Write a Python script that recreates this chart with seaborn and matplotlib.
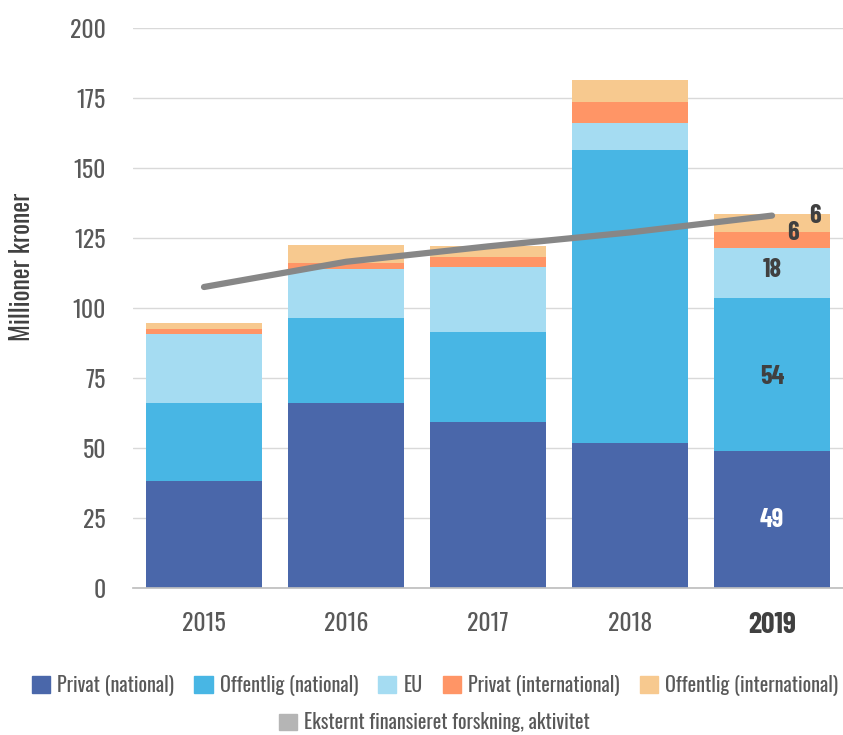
import matplotlib
matplotlib.use("Agg")
import matplotlib.pyplot as plt
import matplotlib.patches as mpatches
from matplotlib import font_manager
import numpy as np
import pandas as pd
import seaborn as sns

years = ["2015", "2016", "2017", "2018", "2019"]
privat_national = [38.2, 66.1, 59.4, 51.9, 49.0]
offentlig_national = [27.9, 30.3, 32.0, 104.5, 54.4]
eu = [24.6, 17.5, 23.2, 9.7, 18.0]
privat_international = [1.8, 2.2, 3.6, 7.6, 5.9]
offentlig_international = [2.1, 6.4, 3.9, 7.7, 6.1]
aktivitet = [107.5, 116.5, 122.0, 127.0, 133.0]

series_names = ["Privat (national)", "Offentlig (national)", "EU",
                "Privat (international)", "Offentlig (international)"]
line_name = "Eksternt finansieret forskning, aktivitet"
labels_2019 = ["49", "54", "18", "6", "6"]
colors = ["#4A67AA", "#48B6E4", "#A5DCF2", "#FF9566", "#F7C98F"]

sns.set_theme(style="white")
fl = font_manager.fontManager.ttflist
names = {f.name for f in fl}
fam = "DejaVu Sans"
for cand in ["Oswald", "Roboto Condensed", "Barlow Condensed", "Archivo Narrow"]:
    if cand in names:
        fam = cand
        break
bold_fam = fam
for cand in ["Oswald SemiBold", "Oswald Medium", "Oswald Bold", "Barlow Condensed",
             "Roboto Condensed"]:
    if cand in names:
        bold_fam = cand
        break
plt.rcParams["font.family"] = [fam, "DejaVu Sans"]
plt.rcParams["font.weight"] = 300
bold_kw = dict(family=[bold_fam, "DejaVu Sans"], fontweight="bold")

fig = plt.figure(figsize=(8.43, 7.35), dpi=100)
ax = fig.add_axes([133/843, 1 - 588/735, 1 - 133/843, (588 - 28)/735])

data = [privat_national, offentlig_national, eu, privat_international, offentlig_international]
bottom = np.zeros(len(years))
for name, vals, c in zip(series_names, data, colors):
    df = pd.DataFrame({"year": years, "v": vals})
    sns.barplot(data=df, x="year", y="v", color=c, bottom=bottom, width=0.81,
                ax=ax, saturation=1, linewidth=0, zorder=2)
    bottom = bottom + np.array(vals)

sns.lineplot(x=np.arange(len(years)), y=aktivitet, color="#878787", linewidth=4.5,
             ax=ax, zorder=4, solid_capstyle="round")

# labels on 2019
cum = 0
i = len(years) - 1
lab_offsets = [(0, -0.3), (0, -0.8), (0, 1.0), (0.15, 2.3), (0.3, 2.6)]
for k, vals in enumerate(data):
    v = vals[i]
    y = cum + v / 2
    cum += v
    dx, dy = lab_offsets[k]
    ax.text(i + dx, y + dy, labels_2019[k], ha="center", va="center",
            fontsize=19, color="white" if k == 0 else "#404040", zorder=5, **bold_kw)

ax.set_ylim(0, 200)
ax.set_xlim(-0.5, 4.5)
ax.set_yticks(range(0, 201, 25))
ax.yaxis.grid(True, color="#D9D9D9", linewidth=1)
ax.set_axisbelow(True)
for s in ["top", "right", "left"]:
    ax.spines[s].set_visible(False)
ax.spines["bottom"].set_color("#BFBFBF")
ax.tick_params(axis="y", length=0, pad=19.5, labelsize=17, labelcolor="#595959")
ax.tick_params(axis="x", length=0, pad=17, labelsize=17, labelcolor="#595959")
ax.set_xlabel("")
ax.set_ylabel("Millioner kroner", fontsize=18.5, color="#404040", va="center")
ax.yaxis.set_label_coords((22 - 133) / 710, (588 - 267) / 560)
for t in ax.get_xticklabels():
    if t.get_text() == "2019":
        t.set_family([bold_fam, "DejaVu Sans"])
        t.set_fontweight("bold")
        t.set_fontsize(21.5)
        t.set_color("#404040")

handles = [mpatches.Patch(color=c, label=n) for n, c in zip(series_names, colors)]
leg1 = fig.legend(handles=handles, loc="center", bbox_to_anchor=(0.516, 1 - 685/735),
                  ncol=5, frameon=False, fontsize=14.5, handlelength=0.9,
                  handleheight=0.9, handletextpad=0.35, columnspacing=1.0,
                  borderpad=0.2, labelcolor="#595959")
leg2 = fig.legend(handles=[mpatches.Patch(color="#B5B5B5", label=line_name)],
                  loc="center", bbox_to_anchor=(0.515, 1 - 722/735), ncol=1,
                  frameon=False, fontsize=14.5, handlelength=0.9, handleheight=0.9,
                  handletextpad=0.35, borderpad=0.2, labelcolor="#595959")

fig.savefig("out.png", dpi=100)
